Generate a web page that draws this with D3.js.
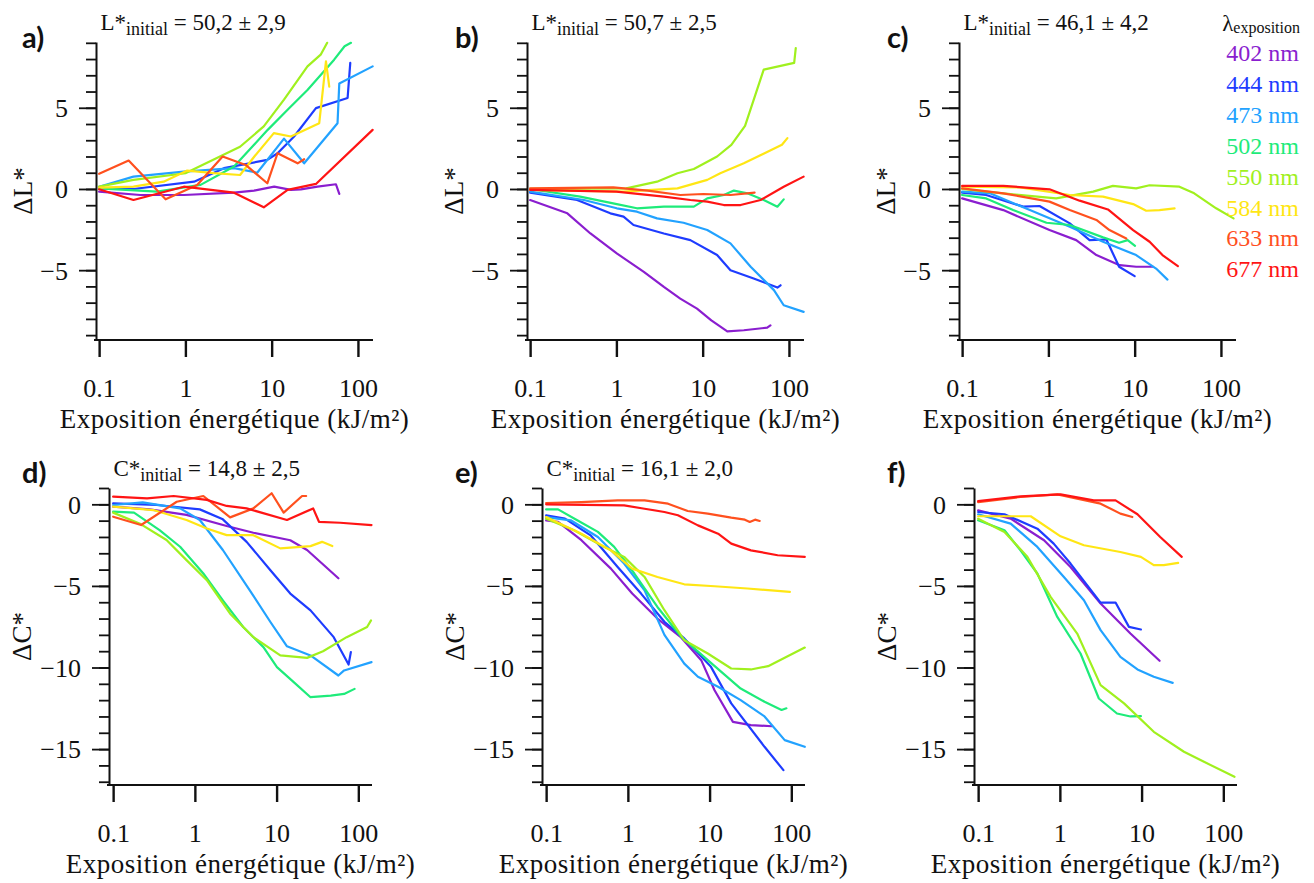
<!DOCTYPE html>
<html><head><meta charset="utf-8">
<script src="https://cdn.jsdelivr.net/npm/d3@7"></script>
<style>
html,body{margin:0;padding:0;background:#fff;}
svg{display:block;}
svg text{font-family:"Liberation Serif","Times New Roman",serif;fill:#111;}
svg text.letter{font-family:Lato,"DejaVu Sans",sans-serif;font-weight:700;}
.axis path,.axis line{stroke:#111;}
</style></head>
<body>
<script>
// ---------------- DATA ----------------
const wavelengths = ["402 nm","444 nm","473 nm","502 nm","550 nm","584 nm","633 nm","677 nm"];
const seriesColors = ["#8A1ECF","#1E3CFF","#22A2FF","#1EEB7A","#A0F01E","#FFE614","#FF501E","#FF1414"];
const xTicks = [0.1, 1, 10, 100];
const xTickLabels = ["0.1","1","10","100"];
const yTicksL = [-5, 0, 5];
const yTicksC = [-15, -10, -5, 0];
const panelLetters = ["a)","b)","c)","d)","e)","f)"];
const panelTitles = [["L","50,2 ± 2,9"],["L","50,7 ± 2,5"],["L","46,1 ± 4,2"],["C","14,8 ± 2,5"],["C","16,1 ± 2,0"],null];
const xLabel = "Exposition énergétique (kJ/m²)";

// a) ΔL*
const dataA = [
 [[0.1,-0.16],[0.3,-0.37],[0.96,-0.37],[3.66,-0.23],[6.25,-0.1],[10.7,0.14],[16.7,-0.06],[21.8,-0.02],[34,0.14],[55.6,0.29],[60.8,-0.3]],
 [[0.1,0.04],[0.25,0],[1.26,0.45],[2.8,1.28],[8.9,1.79],[11.7,2.2],[18.2,3.23],[32.6,4.98],[75.9,5.6],[81.5,7.76]],
 [[0.1,0.14],[0.25,0.76],[0.96,1.07],[3.66,1.28],[6.8,1.0],[13.9,3.1],[23.8,1.58],[58,4.05],[60.8,6.5],[148,7.55]],
 [[0.1,0.04],[0.47,-0.16],[1.5,0.25],[3.66,1.38],[9,3.64],[15.3,4.88],[26,6.1],[53,7.96],[70,8.79],[83,9.0]],
 [[0.1,0.14],[0.25,0.56],[1,0.97],[4.3,2.6],[8.1,3.85],[13.9,5.5],[26,7.55],[37,8.27],[44,9.0]],
 [[0.1,0.08],[0.25,0.14],[0.56,0.45],[1.05,1.13],[2.15,0.97],[4.3,0.86],[6.3,2.0],[10.6,3.44],[16.7,3.23],[35.6,4.05],[42.6,7.86],[46.5,6.3]],
 [[0.1,0.93],[0.22,1.75],[0.59,-0.64],[1.37,0.25],[2.7,2.0],[5.0,1.48],[8.9,0.35],[11.7,2.2],[20,1.58],[23.8,1.83]],
 [[0.1,-0.02],[0.25,-0.68],[0.96,0.14],[3.66,-0.23],[8.1,-1.13],[15.3,-0.06],[32.6,0.31],[148,3.64]]
];
// b) ΔL*
const dataB = [
 [[0.1,-0.68],[0.27,-1.5],[0.5,-2.74],[1.01,-3.97],[2.08,-5.1],[3.55,-6.03],[5.5,-6.75],[8.6,-7.37],[12.6,-8.09],[19.3,-8.77],[30,-8.7],[56,-8.54],[61,-8.4]],
 [[0.1,-0.23],[0.35,-0.68],[0.85,-1.5],[1.21,-1.7],[1.58,-2.22],[3.55,-2.74],[7.2,-3.15],[14.7,-4.07],[21,-5.0],[39,-5.51],[73.5,-6.07],[80,-5.93]],
 [[0.1,-0.16],[0.42,-0.68],[1.01,-1.19],[1.73,-1.4],[2.96,-1.81],[6,-2.08],[11.3,-2.53],[21,-3.35],[36,-4.79],[67,-6.23],[87,-7.16],[148,-7.57]],
 [[0.1,0],[0.38,-0.47],[1.01,-0.93],[1.73,-1.19],[3.55,-1.09],[7.9,-1.09],[11.3,-0.58],[17.6,-0.37],[23,-0.1],[33,-0.27],[51,-0.68],[73.5,-1.09],[87,-0.64]],
 [[0.1,0],[1.3,0.04],[2.96,0.45],[5.1,0.97],[7.9,1.23],[14.7,2.0],[21.5,2.72],[31,3.89],[51,7.35],[115,7.76],[120,8.68]],
 [[0.1,-0.06],[1.2,-0.16],[5.1,0.04],[11.3,0.56],[16,0.97],[30,1.58],[83,2.72],[96,3.13]],
 [[0.1,0.04],[0.92,0.1],[2.3,-0.1],[5.5,-0.37],[10.2,-0.31],[21,-0.37],[40,-0.23]],
 [[0.1,-0.06],[1.0,-0.16],[3.55,-0.47],[7.2,-0.68],[11.3,-0.78],[17.6,-0.99],[27.5,-0.99],[47,-0.68],[87,0.14],[148,0.76]]
];
// c) ΔL*
const dataC = [
 [[0.1,-0.58],[0.3,-1.3],[1.03,-2.53],[2.1,-3.15],[3.6,-4.07],[6.7,-4.69],[10.4,-4.79],[16.3,-4.79]],
 [[0.1,-0.23],[0.19,-0.37],[0.51,-1.09],[0.79,-1.05],[1.77,-2.12],[3.0,-3.15],[4.7,-3.11],[6.6,-4.79],[10,-5.37]],
 [[0.1,-0.16],[0.21,-0.27],[0.61,-1.3],[1.77,-2.33],[4.3,-3.25],[10.4,-4.07],[17.7,-4.9],[24,-5.58]],
 [[0.1,-0.37],[0.19,-0.58],[0.39,-1.3],[0.95,-2.08],[1.77,-2.22],[4.3,-2.98],[6.6,-3.31],[8.3,-3.15],[10.1,-3.5]],
 [[0.1,0],[0.3,-0.27],[1.23,-0.58],[3.3,-0.16],[5.6,0.19],[10.4,0.04],[14.9,0.23],[33,0.14],[49,-0.27],[88,-1.19],[140,-1.81]],
 [[0.1,0.14],[0.47,0.1],[1.77,-0.37],[4.3,-0.47],[9.6,-0.93],[13.6,-1.34],[19.4,-1.3],[29,-1.19]],
 [[0.1,0.04],[0.3,-0.27],[1.03,-0.78],[1.77,-1.3],[3.6,-1.91],[5.1,-2.53],[8.0,-3.05]],
 [[0.1,0.19],[0.3,0.19],[1.03,-0.02],[2.3,-0.72],[4.9,-1.26],[9.6,-2.53],[14.9,-3.25],[21,-4.07],[31.7,-4.75]]
];
// d) ΔC*
const dataD = [
 [[0.1,-0.14],[0.28,-0.31],[0.79,-0.65],[2.45,-1.33],[5.2,-1.74],[14.7,-2.2],[23.6,-2.8],[57,-4.53]],
 [[0.1,0.06],[0.34,-0.04],[1.15,-0.31],[2.2,-0.92],[4.3,-2.3],[8.4,-4.04],[14.7,-5.47],[26,-6.5],[50,-8.14],[76,-9.82],[81,-9.06]],
 [[0.1,-0.04],[0.23,0.12],[0.66,-0.25],[1.15,-0.96],[2.2,-2.8],[4.7,-5.27],[8.4,-7.21],[13.4,-8.7],[26,-9.26],[57,-10.49],[67,-10.18],[145,-9.67]],
 [[0.1,-0.45],[0.18,-0.51],[0.37,-1.58],[0.66,-2.6],[1.27,-4.24],[2.2,-5.88],[3.9,-7.52],[6.9,-8.75],[10.1,-9.98],[16.2,-10.9],[26,-11.82],[46,-11.72],[67,-11.62],[90,-11.31]],
 [[0.1,-0.51],[0.21,-1.17],[0.45,-2.19],[0.79,-3.42],[1.4,-4.65],[2.7,-6.7],[5.2,-8.14],[11.1,-9.26],[23.6,-9.41],[37,-9.0],[72,-8.14],[128,-7.52],[143,-7.11]],
 [[0.1,-0.14],[0.31,-0.35],[0.79,-0.96],[1.4,-1.48],[2.45,-1.89],[5.2,-1.89],[11.1,-2.7],[16.2,-2.64],[26,-2.56],[36,-2.3],[48,-2.56]],
 [[0.1,-0.76],[0.22,-1.27],[0.6,0.16],[1.27,0.51],[2.7,-0.8],[5.2,-0.25],[8.7,0.68],[12.2,-0.51],[20.5,0.51],[23,0.51]],
 [[0.1,0.47],[0.26,0.37],[0.55,0.51],[1.4,0.27],[2.45,-0.1],[4.3,-0.25],[13.4,-0.96],[28,-0.25],[33,-1.07],[60,-1.13],[145,-1.27]]
];
// e) ΔC*
const dataE = [
 [[0.1,-0.98],[0.14,-1.08],[0.27,-2.2],[0.62,-3.94],[1.13,-5.47],[2.3,-7.0],[4.4,-8.12],[7.9,-9.55],[11.5,-11.39],[19.3,-13.33],[32,-13.53],[58,-13.6]],
 [[0.1,-0.67],[0.17,-0.88],[0.35,-1.9],[0.75,-3.84],[1.45,-5.47],[2.8,-7.2],[4.9,-8.22],[10.4,-9.96],[18.4,-12.2],[47,-14.86],[80,-16.29]],
 [[0.1,-0.78],[0.2,-0.98],[0.43,-2.0],[0.9,-3.63],[1.6,-5.27],[2.8,-8.0],[4.9,-9.76],[7.2,-10.57],[12.7,-11.18],[24,-12.0],[47,-13.0],[83,-14.45],[146,-14.86]],
 [[0.1,-0.31],[0.14,-0.31],[0.24,-0.98],[0.43,-1.69],[0.68,-2.61],[1.2,-4.24],[2.3,-6.29],[4.5,-8.12],[9.5,-9.55],[24,-11.29],[47,-12.1],[76,-12.6],[87,-12.5]],
 [[0.1,-0.88],[0.22,-1.59],[0.43,-2.41],[0.9,-3.22],[1.6,-4.45],[2.8,-6.49],[4.9,-8.33],[9.5,-9.14],[18.4,-10.06],[32,-10.12],[52,-9.92],[146,-8.78]],
 [[0.1,-0.78],[0.27,-1.8],[0.62,-2.82],[1.13,-3.94],[2.3,-4.45],[4.9,-4.9],[11.5,-5.02],[29,-5.16],[96,-5.37]],
 [[0.1,0.08],[0.27,0.14],[0.75,0.24],[1.6,0.24],[3.1,0.04],[5.4,-0.41],[9.5,-0.57],[18.4,-0.82],[27,-0.94],[31,-1.08],[36,-0.94],[41,-1.02]],
 [[0.1,0],[0.9,-0.06],[1.6,-0.27],[2.8,-0.47],[4.1,-0.67],[7.2,-1.29],[12.7,-1.8],[18.4,-2.41],[32,-2.82],[68,-3.12],[146,-3.22]]
];
// f) ΔC*
const dataF = [
 [[0.1,-0.37],[0.25,-0.88],[0.64,-2.2],[1.35,-3.84],[3.15,-6.08],[7.3,-7.92],[16.6,-9.59]],
 [[0.1,-0.47],[0.21,-0.61],[0.53,-1.49],[0.84,-2.41],[1.35,-3.63],[3.15,-6.02],[4.8,-6.02],[7.0,-7.51],[9.8,-7.67]],
 [[0.1,-0.61],[0.25,-1.18],[0.53,-2.61],[1.12,-4.45],[1.97,-5.88],[3.15,-7.71],[5.5,-9.35],[8.9,-10.12],[14.1,-10.57],[24,-10.94]],
 [[0.1,-0.98],[0.21,-1.59],[0.33,-2.82],[0.53,-4.24],[0.93,-6.9],[1.79,-9.14],[3.0,-11.9],[5.0,-12.82],[7.3,-13.0],[9.8,-12.98]],
 [[0.1,-0.88],[0.21,-1.69],[0.4,-3.22],[0.77,-5.67],[1.63,-7.92],[3.15,-11.08],[6.1,-12.2],[14.1,-13.94],[33,-15.16],[58,-15.78],[137,-16.7]],
 [[0.1,-0.73],[0.44,-0.73],[1.02,-1.96],[1.97,-2.51],[5.5,-2.92],[9.8,-3.22],[14.1,-3.73],[18.7,-3.73],[28,-3.59]],
 [[0.1,0.14],[0.33,0.45],[0.93,0.61],[3.15,0.04],[5.5,-0.57],[7.7,-0.78]],
 [[0.1,0.2],[0.33,0.49],[1.02,0.61],[2.6,0.24],[4.8,0.24],[8.9,-0.61],[16.9,-2.0],[31,-3.22]]
];
const panelData = [dataA, dataB, dataC, dataD, dataE, dataF];

// ---------------- LAYOUT ----------------
const W = 1314, H = 883;
const SERIF = "Liberation Serif";
const svg = d3.select("body").append("svg").attr("width", W).attr("height", H);

const rows = [
  {yTop: 42, yBot: 340, yDom: [9.05, -9.3], xDom: [0.092, 149.5], width: 277, minor: d3.range(-9, 10), major: yTicksL, sym: "L",
   ylabOff: 64, titleY: 30, letterY: 48},
  {yTop: 488, yBot: 785, yDom: [1, -17.2], xDom: [0.089, 147], width: 263, minor: d3.range(-17, 2), major: yTicksC, sym: "C",
   ylabOff: 78, titleY: 476, letterY: 483}
];
const axisXs = [96, 527, 959, 109, 542, 974];
const letterXs = [22, 455, 887, 22, 455, 887];

panelData.forEach((series, p) => {
  const r = rows[Math.floor(p / 3)];
  const x0 = axisXs[p];
  const x = d3.scaleLog().domain(r.xDom).range([x0, x0 + r.width]);
  const y = d3.scaleLinear().domain(r.yDom).range([r.yTop, r.yBot]);
  const g = svg.append("g");

  // data lines
  const line = d3.line().x(d => x(d[0])).y(d => y(d[1]));
  series.forEach((s, i) => {
    g.append("path").datum(s).attr("d", line)
      .attr("fill", "none").attr("stroke", seriesColors[i])
      .attr("stroke-width", 2.2).attr("stroke-linejoin", "round").attr("stroke-linecap", "round");
  });

  // y axis: minor ticks
  g.append("g").attr("class", "axis").attr("transform", `translate(${x0},0)`)
    .call(d3.axisLeft(y).tickValues(r.minor).tickSize(10).tickSizeOuter(0).tickFormat(""))
    .call(a => a.select(".domain").attr("stroke-width", 2))
    .call(a => a.selectAll(".tick line").attr("stroke-width", 1.8));
  // y axis: major ticks + labels
  g.append("g").attr("class", "axis").attr("transform", `translate(${x0},0)`).attr("font-family", SERIF)
    .call(d3.axisLeft(y).tickValues(r.major).tickSize(17).tickSizeOuter(0).tickPadding(11).tickFormat(d3.format("d")))
    .call(a => a.select(".domain").remove())
    .call(a => a.selectAll(".tick line").attr("stroke-width", 1.8))
    .call(a => a.selectAll("text").attr("font-size", 26).attr("font-family", SERIF).attr("dy", "0.34em"));

  // x axis
  g.append("g").attr("class", "axis").attr("transform", `translate(0,${r.yBot})`)
    .call(d3.axisBottom(x).tickValues(xTicks).tickSize(17).tickSizeOuter(0).tickPadding(22)
      .tickFormat((d, i) => xTickLabels[i]))
    .call(a => a.attr("font-family", SERIF))
    .call(a => a.select(".domain").attr("stroke-width", 2).attr("d", `M${x0 - 2},0H${x0 + r.width}`))
    .call(a => a.selectAll(".tick line").attr("stroke-width", 2.4))
    .call(a => a.selectAll("text").attr("font-size", 26).attr("font-family", SERIF));

  // x label
  g.append("text").attr("x", x0 + r.width / 2).attr("y", r.yBot + 88).attr("font-family", SERIF)
    .attr("text-anchor", "middle").attr("font-size", 27).attr("letter-spacing", 0.5).text(xLabel);

  // y label
  g.append("text").attr("transform", `translate(${x0 - r.ylabOff},${(r.yTop + r.yBot) / 2}) rotate(-90)`)
    .attr("font-family", SERIF).attr("text-anchor", "middle").attr("font-size", 27).text("Δ" + r.sym + "*");

  // panel letter
  g.append("text").attr("class", "letter").attr("x", letterXs[p]).attr("y", r.letterY)
    .attr("font-size", 29).text(panelLetters[p]);

  // title
  const t = panelTitles[p];
  if (t) {
    const tt = g.append("text").attr("x", x0 + 4.5).attr("y", r.titleY).attr("font-size", 23).attr("font-family", SERIF);
    tt.append("tspan").text(t[0] + "*");
    tt.append("tspan").attr("font-size", 18).attr("dy", 5).text("initial");
    tt.append("tspan").attr("dy", -5).text(" = " + t[1]);
  }
});

// legend
const leg = svg.append("g").attr("font-family", SERIF);
const lt = leg.append("text").attr("x", 1300).attr("y", 31).attr("text-anchor", "end").attr("font-family", SERIF);
lt.append("tspan").attr("font-size", 23).text("λ");
lt.append("tspan").attr("font-size", 16).attr("dy", 2).text("exposition");
wavelengths.forEach((w, i) => {
  leg.append("text").attr("x", 1299).attr("y", 61 + i * 30.9).attr("text-anchor", "end").attr("font-family", SERIF)
    .attr("font-size", 24).style("fill", seriesColors[i]).text(w);
});
</script>
</body></html>
